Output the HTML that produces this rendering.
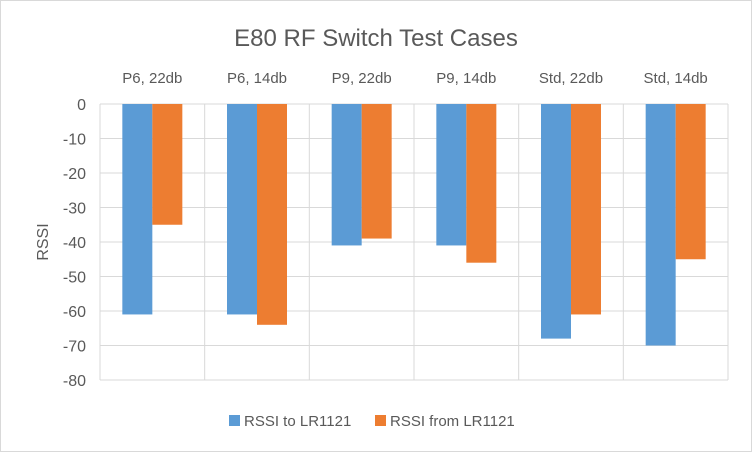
<!DOCTYPE html>
<html><head><meta charset="utf-8"><style>
body{margin:0;background:#fff;font-family:"Liberation Sans",sans-serif}
svg text{font-family:"Liberation Sans",sans-serif;fill:#595959}
</style></head><body>
<svg width="752" height="452">
<rect x="0.5" y="0.5" width="751" height="451" fill="#fff" stroke="#d9d9d9"/>
<text x="376" y="46" font-size="24" text-anchor="middle">E80 RF Switch Test Cases</text>
<text transform="translate(48,242) rotate(-90)" font-size="16" text-anchor="middle">RSSI</text>
<g id="plot"></g>
<g>
<rect x="229" y="415" width="11" height="11" fill="#5b9bd5"/>
<text x="244" y="426" font-size="15">RSSI to LR1121</text>
<rect x="375" y="415" width="11" height="11" fill="#ed7d31"/>
<text x="390" y="426" font-size="15">RSSI from LR1121</text>
</g>
</svg>
<script>
const categories=["P6, 22db","P6, 14db","P9, 22db","P9, 14db","Std, 22db","Std, 14db"];
const rssiTo=[-61,-61,-41,-41,-68,-70];
const rssiFrom=[-35,-64,-39,-46,-61,-45];
const yTicks=[0,-10,-20,-30,-40,-50,-60,-70,-80];
const L=100,R=728,T=104,B=380,yMin=-80,yMax=0;
const y=v=>T+(yMax-v)/(yMax-yMin)*(B-T);
const bw=(R-L)/categories.length;
const x=i=>L+i*bw;
const g=document.getElementById('plot');
const NS='http://www.w3.org/2000/svg';
function mk(t,a){const e=document.createElementNS(NS,t);for(const k in a)e.setAttribute(k,a[k]);g.appendChild(e);return e;}
yTicks.forEach(v=>{
 const ln=mk('line',{x1:L,x2:R,y1:y(v),y2:y(v),stroke:'#d9d9d9'});
 
 
 const t=mk('text',{x:L-14,y:y(v)+6,'font-size':16,'text-anchor':'end'});t.textContent=v;
 
 
});
for(let i=0;i<=categories.length;i++){
 const ln=mk('line',{x1:x(i),x2:x(i),y1:T,y2:B,stroke:'#d9d9d9'});
 
 
}
categories.forEach((c,i)=>{
 const t=mk('text',{x:x(i)+bw/2,y:83,'font-size':15,'text-anchor':'middle'});t.textContent=c;
 
 
 const cx=x(i)+bw/2,w=30;
 const b1=mk('rect',{x:cx-w,y:y(0),width:w,height:y(rssiTo[i])-y(0),fill:'#5b9bd5'});
 
 
 const b2=mk('rect',{x:cx,y:y(0),width:w,height:y(rssiFrom[i])-y(0),fill:'#ed7d31'});
 
 
});
</script>
</body></html>
